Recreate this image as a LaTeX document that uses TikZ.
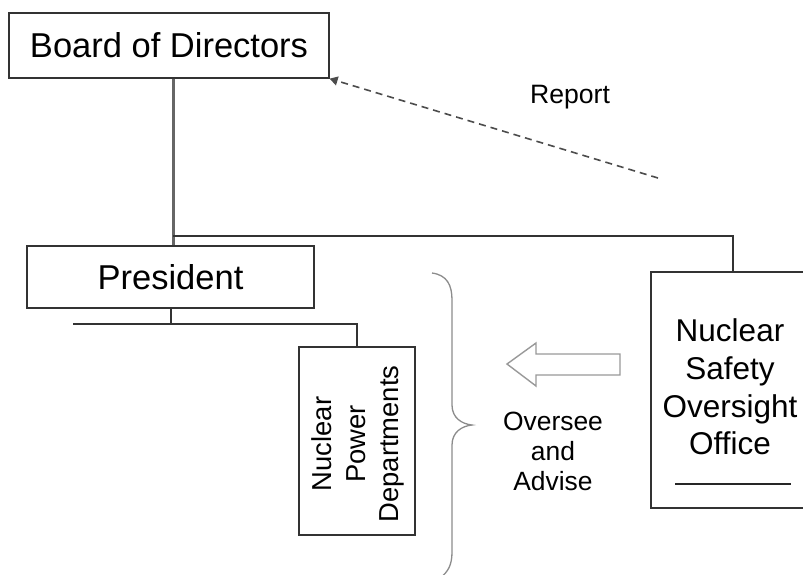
\documentclass[tikz,border=0pt]{standalone}
\usepackage{fontspec}
\setmainfont{Liberation Sans}
\usetikzlibrary{arrows.meta}
\begin{document}
\begin{tikzpicture}[x=1pt,y=-1pt,
  orgbox/.style={draw=black!80, line width=1.3pt, fill=white, inner sep=0pt, align=center},
  link/.style={draw=black!80, line width=1.5pt},
  trunk/.style={draw=black!60, line width=3pt},
  report/.style={draw=black!70, line width=1.6pt, dash pattern=on 7pt off 5pt,
    -{Triangle[width=9pt,length=8pt]}},
  bracestyle/.style={draw=black!45, line width=1.3pt},
  hollowarrow/.style={draw=black!40, line width=1.4pt, fill=white}
]
\useasboundingbox (0,0) rectangle (803,574);

% boxes
\node[orgbox, minimum width=320pt, minimum height=65pt,
      font=\fontsize{34.5}{40}\selectfont] (board) at (169,45.5) {Board of Directors};
\node[orgbox, minimum width=287pt, minimum height=62pt,
      font=\fontsize{34.5}{40}\selectfont] (pres) at (170.5,277) {President};
\node[orgbox, minimum width=116pt, minimum height=188pt] (npd) at (357,441) {};
\node[rotate=90, align=center, font=\fontsize{27.4}{33.5}\selectfont] (npdtext) at (358,444)
  {Nuclear\\Power\\Departments};
\node[orgbox, minimum width=169pt, minimum height=236pt] (nso) at (735.5,390) {};
\node[align=center, font=\fontsize{31.5}{37.7}\selectfont] (nsotext) at (730,387)
  {Nuclear\\Safety\\Oversight\\Office};
\coordinate (rulel) at (675,484);
\coordinate (ruler) at (791,484);
\draw[draw=black!85, line width=1.2pt] (rulel) -- (ruler);

% reporting tree
\coordinate (j1) at (173,236);
\coordinate (j2) at (733,236);
\draw[trunk] (j1 |- board.south) -- (j1 |- pres.north);
\draw[link] (j1) -- (j2) -- (j2 |- nso.north);

\coordinate (j3) at (171,324);
\coordinate (j4) at (73,324);
\coordinate (j5) at (357,324);
\draw[link] (j3 |- pres.south) -- (j3);
\draw[link] (j4) -- (j5) -- (npd.north);

% report line back to the board
\coordinate (rstart) at (658,178);
\draw[report] (rstart) -- (board.south east);
\node[font=\fontsize{26.6}{30}\selectfont] (rep) at (570,97) {Report};

% brace spanning the nuclear power departments
\draw[bracestyle] (432,273) .. controls (447,275) and (452,285) .. (452,300)
  -- (452,405) .. controls (452,418) and (462,424) .. (472,425)
  .. controls (462,426) and (452,432) .. (452,445)
  -- (452,552) .. controls (452,565) and (448,572) .. (440,578);

% hollow arrow towards the departments
\draw[hollowarrow] (507,364) -- (536,343) -- (536,354) -- (620,354) -- (620,375)
  -- (536,375) -- (536,386) -- cycle;
\node[align=center, font=\fontsize{26.4}{30}\selectfont] (adv) at (553,451)
  {Oversee\\and\\Advise};
\end{tikzpicture}
\end{document}
